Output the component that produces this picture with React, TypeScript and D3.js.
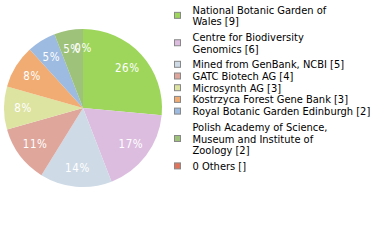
import React, { useMemo } from "react";
import * as d3 from "d3";

const categories = [
  "National Botanic Garden of Wales",
  "Centre for Biodiversity Genomics",
  "Mined from GenBank, NCBI",
  "GATC Biotech AG",
  "Microsynth AG",
  "Kostrzyca Forest Gene Bank",
  "Royal Botanic Garden Edinburgh",
  "Polish Academy of Science, Museum and Institute of Zoology",
  "0 Others",
];
const counts = [9, 6, 5, 4, 3, 3, 2, 2, 0];
const countLabels = ["9", "6", "5", "4", "3", "3", "2", "2", ""];
const colors = [
  "#9dd65b",
  "#dcbde0",
  "#cedae6",
  "#dfa69c",
  "#dde3a0",
  "#f0ac72",
  "#9dbae0",
  "#9ec27a",
  "#e0735a",
];

const W = 380;
const H = 240;
const FONT = "'DejaVu Sans Condensed', 'DejaVu Sans', sans-serif";
const MAX_CHARS = 30;

function wrapChars(text: string, maxC: number): string[] {
  const words = text.split(" ");
  const lines: string[] = [];
  let cur = "";
  for (const w of words) {
    const t = cur ? cur + " " + w : w;
    if (t.length > maxC && cur) {
      lines.push(cur);
      cur = w;
    } else cur = t;
  }
  if (cur) lines.push(cur);
  return lines;
}

export default function App() {
  const cx = 83;
  const cy = 108;
  const r = 79;
  const total = d3.sum(counts);
  const pie = d3
    .pie<number>()
    .sort(null)
    .value((d) => d)(counts);
  const arc = d3.arc<d3.PieArcDatum<number>>().innerRadius(0).outerRadius(r);
  const labelArc = d3
    .arc<d3.PieArcDatum<number>>()
    .innerRadius(60)
    .outerRadius(60);

  const legend = useMemo(() => {
    const lineH = 11.7;
    const extra = 4;
    let y = 13.5;
    const out: { lines: string[]; ys: number[]; sy: number }[] = [];
    let prevMulti = false;
    categories.forEach((cat, i) => {
      const lines = wrapChars(cat, MAX_CHARS);
      lines[lines.length - 1] += ` [${countLabels[i]}]`;
      const multi = lines.length > 1;
      if (i > 0 && (multi || prevMulti)) y += extra;
      const ys = lines.map((_, k) => y + k * lineH);
      const sy = (ys[0] + ys[ys.length - 1]) / 2 - 4;
      out.push({ lines, ys, sy });
      y = ys[ys.length - 1] + lineH;
      prevMulti = multi;
    });
    return out;
  }, []);

  return (
    <svg
      width={W}
      height={H}
      style={{ position: "absolute", left: 0, top: 0, background: "#fff" }}
      fontFamily={FONT}
    >
      <g transform={`translate(${cx},${cy})`}>
        {pie.map((d, i) => (
          <path key={i} d={arc(d) || ""} fill={colors[i]} />
        ))}
        {pie.map((d, i) => {
          const [x, y] = labelArc.centroid(d);
          return (
            <text
              key={"l" + i}
              x={x}
              y={y}
              textAnchor="middle"
              dominantBaseline="central"
              fill="#fff"
              fontSize={11.5}
              letterSpacing={0.6}
            >
              {Math.floor((counts[i] / total) * 100)}%
            </text>
          );
        })}
      </g>
      {legend.map((e, i) => (
        <g key={"g" + i}>
          <rect
            x={174.5}
            y={e.sy - 3}
            width={6}
            height={6}
            fill={colors[i]}
            stroke="#888"
            strokeWidth={1}
          />
          {e.lines.map((ln, k) => (
            <text key={k} x={192.5} y={e.ys[k]} fontSize={11} fill="#000">
              {ln}
            </text>
          ))}
        </g>
      ))}
    </svg>
  );
}
